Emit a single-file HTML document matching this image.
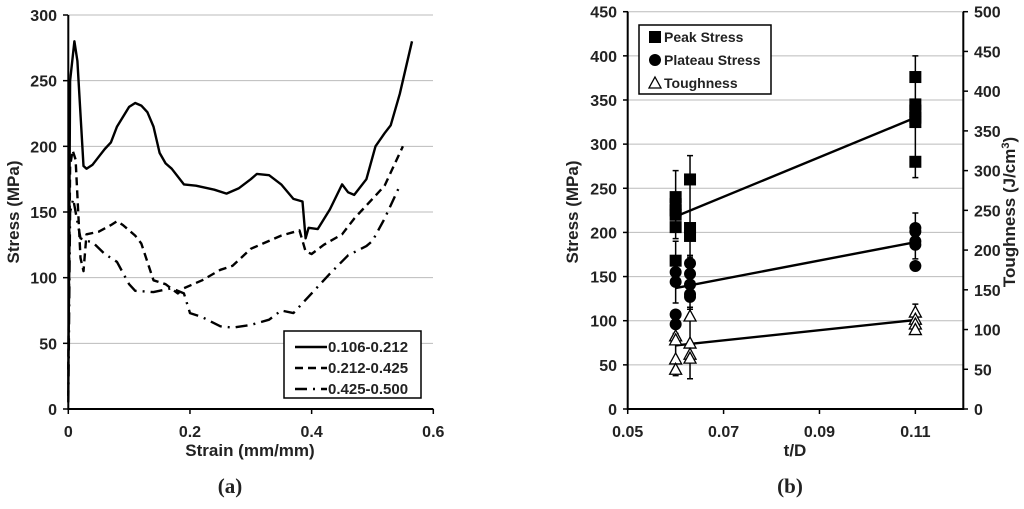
<!DOCTYPE html>
<html><head><meta charset="utf-8"><style>
body{margin:0;background:#fff;width:1024px;height:504px;overflow:hidden}
svg text{font-family:"Liberation Sans",sans-serif;font-weight:bold;fill:#222}
</style></head><body>
<svg id="s" width="1024" height="504" xmlns="http://www.w3.org/2000/svg"></svg>
<script>
// ---- chart (a) data ----
const aYTicks=[0,50,100,150,200,250,300];
const aXTicks=[0,0.2,0.4,0.6];
const aXLabels=["0","0.2","0.4","0.6"];
const s1x=[0,0.003,0.01,0.015,0.025,0.03,0.04,0.05,0.06,0.07,0.08,0.1,0.11,0.12,0.13,0.14,0.15,0.16,0.17,0.19,0.21,0.24,0.26,0.28,0.3,0.31,0.33,0.35,0.37,0.385,0.39,0.395,0.41,0.43,0.45,0.46,0.47,0.49,0.505,0.52,0.53,0.545,0.565];
const s1y=[10,250,280,265,185,183,186,192,198,203,215,230,233,231,226,215,195,187,183,171,170,167,164,168,175,179,178,171,160,158,130,138,137,152,171,165,163,175,200,210,216,240,280];
const s2x=[0,0.003,0.007,0.012,0.02,0.025,0.03,0.05,0.07,0.08,0.09,0.11,0.12,0.14,0.16,0.18,0.19,0.22,0.25,0.27,0.3,0.32,0.35,0.38,0.39,0.4,0.42,0.45,0.47,0.5,0.52,0.55];
const s2y=[30,185,197,190,115,105,133,135,140,143,140,132,126,98,95,88,92,98,106,109,122,126,132,136,120,118,125,133,145,160,170,200];
const s3x=[0,0.003,0.008,0.012,0.02,0.03,0.04,0.06,0.08,0.1,0.11,0.14,0.17,0.19,0.2,0.22,0.25,0.27,0.3,0.33,0.35,0.37,0.4,0.43,0.46,0.49,0.5,0.52,0.545];
const s3y=[5,150,160,150,130,128,127,118,112,95,90,89,92,88,73,70,63,62,64,68,75,73,88,103,117,124,128,145,170];
const aNames=["0.106-0.212","0.212-0.425","0.425-0.500"];
// ---- chart (b) data ----
const bYTicks=[0,50,100,150,200,250,300,350,400,450];
const bY2Ticks=[0,50,100,150,200,250,300,350,400,450,500];
const bXTicks=[0.05,0.07,0.09,0.11];
const bXLabels=["0.05","0.07","0.09","0.11"];
const groupX=[0.06,0.063,0.11];
const peakVals=[[240,232,225,220,206,168],[260,205,196],[376,345,338,330,325,280]];
const plateauVals=[[155,144,107,96],[165,153,141,130,127],[205,201,190,186,162]];
const toughVals=[[92,87,63,50],[117,83,69,64],[122,113,107,100]];
const peakErr=[[193,270],[172,287],[262,400]];
const plateauErr=[[120,190],[113,174],[170,222]];
const toughErr=[[42,95],[38,128],[97,132]];
const peakTrend=[218,330];
const plateauTrend=[137,189];
const toughTrend=[80,112];

const NS="http://www.w3.org/2000/svg",S=document.getElementById('s');
function el(t,a,p){const e=document.createElementNS(NS,t);for(const k in a)e.setAttribute(k,a[k]);(p||S).appendChild(e);return e;}
function tx(x,y,s,size,anchor,name,extra){const e=el('text',Object.assign({x:x,y:y,'font-size':size,'text-anchor':anchor},extra||{}));e.textContent=s;


return e;}

// chart a axes
const ax=v=>68.3+v/0.6*365, ay=v=>409-v/300*394;
aYTicks.forEach(v=>{if(v>0){const g=el('line',{x1:68,x2:433,y1:ay(v),y2:ay(v),stroke:'#bbb','stroke-width':1});

}
el('line',{x1:63,x2:68,y1:ay(v),y2:ay(v),stroke:'#000','stroke-width':1.5});
tx(57,ay(v)+6,String(v),16,'end','a-y-tick-label');});
aXTicks.forEach((v,i)=>{el('line',{x1:ax(v),x2:ax(v),y1:409,y2:414,stroke:'#000','stroke-width':1.5});
tx(ax(v),437,aXLabels[i],16,'middle','a-x-tick-label');});
let ap=el('path',{d:`M68.3 ${ay(300)}V409H433.3`,fill:'none',stroke:'#000','stroke-width':2});


tx(250,456,'Strain (mm/mm)',17,'middle','a-x-axis-title');
tx(0,0,'Stress (MPa)',17,'middle','a-y-axis-title',{transform:`translate(19 212) rotate(-90)`});
const dashes=['none','8 5','12 6 2 6'];
[[s1x,s1y],[s2x,s2y],[s3x,s3y]].forEach((s,i)=>{
 const d=s[0].map((x,j)=>(j?'L':'M')+ax(x).toFixed(1)+' '+ay(s[1][j]).toFixed(1)).join('');
 const p=el('path',{d:d,fill:'none',stroke:'#000','stroke-width':2.4,'stroke-dasharray':dashes[i],'stroke-linejoin':'round'});
 
 
});
let lg=el('rect',{x:284,y:331,width:137,height:67,fill:'#fff',stroke:'#000','stroke-width':1.5});


aNames.forEach((n,i)=>{const y=347+i*21;
 el('line',{x1:295,x2:327,y1:y,y2:y,stroke:'#000','stroke-width':2.4,'stroke-dasharray':dashes[i]});
 tx(328,y+5,n,15,'start','a-legend-entry');});

// chart b
const bx=v=>627.7+(v-0.05)/0.07*335.6, by=v=>409-v/450*397.3, by2=v=>409-v/500*397.3;
bYTicks.forEach(v=>{if(v>0){const g=el('line',{x1:628,x2:963,y1:by(v),y2:by(v),stroke:'#bbb','stroke-width':1});

}
el('line',{x1:623,x2:628,y1:by(v),y2:by(v),stroke:'#000','stroke-width':1.5});
tx(617,by(v)+6,String(v),16,'end','b-y-tick-label');});
bY2Ticks.forEach(v=>{el('line',{x1:963,x2:968,y1:by2(v),y2:by2(v),stroke:'#000','stroke-width':1.5});
tx(974,by2(v)+6,String(v),16,'start','b-y2-tick-label');});
bXTicks.forEach((v,i)=>{el('line',{x1:bx(v),x2:bx(v),y1:409,y2:414,stroke:'#000','stroke-width':1.5});
tx(bx(v),437,bXLabels[i],16,'middle','b-x-tick-label');});
let bp=el('path',{d:`M627.7 ${by(450)}V409H963.3V${by(450)}`,fill:'none',stroke:'#000','stroke-width':2});


tx(795,456,'t/D',17,'middle','b-x-axis-title');
tx(0,0,'Stress (MPa)',17,'middle','b-y-axis-title',{transform:`translate(578 212) rotate(-90)`});
const t2=tx(0,0,'Toughness (J/cm',17,'middle','b-y2-axis-title',{transform:`translate(1015 212) rotate(-90)`});
const sup=el('tspan',{dy:-6,'font-size':11},t2);sup.textContent='3';
const cl=el('tspan',{dy:6},t2);cl.textContent=')';
function errs(arr,f){groupX.forEach((g,i)=>{const x=bx(g),a=f(arr[i][0]),b=f(arr[i][1]);
 const e=el('path',{d:`M${x} ${a}V${b}M${x-3} ${a}h6M${x-3} ${b}h6`,stroke:'#000','stroke-width':1.5,fill:'none'});
 
 });}
errs(peakErr,by);errs(plateauErr,by);errs(toughErr,by2);
function trend(t,f,name){const l=el('line',{x1:bx(groupX[0]),y1:f(t[0]),x2:bx(groupX[2]),y2:f(t[1]),stroke:'#000','stroke-width':2.4});
 
 }
trend(peakTrend,by,'peak-trend-line');trend(plateauTrend,by,'plateau-trend-line');trend(toughTrend,by2,'toughness-trend-line');
function sq(x,y){return el('rect',{x:x-6,y:y-6,width:12,height:12,fill:'#000'});}
function ci(x,y){return el('circle',{cx:x,cy:y,r:6,fill:'#000'});}
function tri(x,y){return el('path',{d:`M${x} ${y-6}L${x+6} ${y+5}H${x-6}Z`,fill:'#fff',stroke:'#000','stroke-width':1.3});}
groupX.forEach((g,i)=>{
 peakVals[i].forEach(v=>{const m=sq(bx(g),by(v));
  
  });
 plateauVals[i].forEach(v=>{const m=ci(bx(g),by(v));
  
  });
 toughVals[i].forEach(v=>{const m=tri(bx(g),by2(v));
  
  });
});
let bl=el('rect',{x:639,y:25,width:132,height:69,fill:'#fff',stroke:'#000','stroke-width':1.5});


sq(655,37);ci(655,60);tri(655,83);
tx(664,42,'Peak Stress',14,'start','b-legend-entry');
tx(664,65,'Plateau Stress',14,'start','b-legend-entry');
tx(664,88,'Toughness',14,'start','b-legend-entry');
tx(230,493,'(a)',21,'middle','panel-a-label',{style:'font-family:"Liberation Serif",serif'});
tx(790,493,'(b)',21,'middle','panel-b-label',{style:'font-family:"Liberation Serif",serif'});
</script>
</body></html>
